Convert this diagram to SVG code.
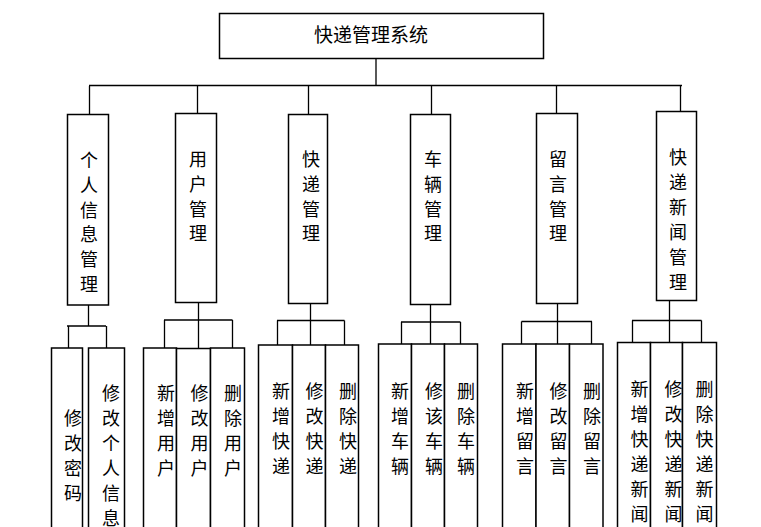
<svg xmlns="http://www.w3.org/2000/svg" width="761" height="527" viewBox="0 0 761 527">
<style>
.box{fill:#fff;stroke:#000;stroke-width:1.5}
.ln{stroke:#000;stroke-width:1.3;fill:none}
.t{font-family:"Noto Sans CJK SC","Noto Sans CJK TC",sans-serif;font-size:18px;text-anchor:middle;dominant-baseline:central;fill:#000}
.r{font-size:19px}
</style>
<rect width="761" height="527" fill="#fff"/>
<g id="connectors">
<path class="ln" d="M376,58V86M89,85.5H682M89.5,86V114M197.5,86V113M308.5,86V114M431.5,86V114M556.5,86V113M680.5,86V111"/>
<path class="ln" d="M88.5,305V326M67,326H106M68.5,326V348M106.5,326V348"/>
<path class="ln" d="M198.5,302V348M164,320H232.5M164.5,320V348M232.5,320V348"/>
<path class="ln" d="M310.5,303V345M277,320.5H344.5M277.5,320.5V345M344.5,320.5V345"/>
<path class="ln" d="M430.5,304V344M401,322H460.5M401.5,322V344M460.5,322V344"/>
<path class="ln" d="M557.5,303V344M521.5,321.5H592M521.5,321.5V344M591.5,321.5V344"/>
<path class="ln" d="M669.5,300V342.5M632,320.5H701.5M632.5,320.5V342.5M701.5,320.5V342.5"/>
</g>
<g id="root"><rect class="box" x="219.5" y="13.5" width="324" height="45"/><text class="t r" x="371" y="33">快递管理系统</text></g>
<g id="n1"><rect class="box" x="67.5" y="114.5" width="41" height="190.5"/><text class="t" x="89"><tspan x="89" y="159">个</tspan><tspan x="89" dy="24.8">人</tspan><tspan x="89" dy="24.8">信</tspan><tspan x="89" dy="24.8">息</tspan><tspan x="89" dy="24.8">管</tspan><tspan x="89" dy="24.8">理</tspan></text></g>
<g id="n2"><rect class="box" x="175.5" y="113.5" width="41" height="189"/><text class="t"><tspan x="198" y="158">用</tspan><tspan x="198" dy="24.8">户</tspan><tspan x="198" dy="24.8">管</tspan><tspan x="198" dy="24.8">理</tspan></text></g>
<g id="n3"><rect class="box" x="288.5" y="114.5" width="39" height="189"/><text class="t"><tspan x="311" y="158">快</tspan><tspan x="311" dy="24.8">递</tspan><tspan x="311" dy="24.8">管</tspan><tspan x="311" dy="24.8">理</tspan></text></g>
<g id="n4"><rect class="box" x="410.5" y="114.5" width="40" height="190"/><text class="t"><tspan x="433" y="158">车</tspan><tspan x="433" dy="24.8">辆</tspan><tspan x="433" dy="24.8">管</tspan><tspan x="433" dy="24.8">理</tspan></text></g>
<g id="n5"><rect class="box" x="536.5" y="113.5" width="41" height="190"/><text class="t"><tspan x="558" y="158">留</tspan><tspan x="558" dy="24.8">言</tspan><tspan x="558" dy="24.8">管</tspan><tspan x="558" dy="24.8">理</tspan></text></g>
<g id="n6"><rect class="box" x="656.5" y="111.5" width="40" height="189"/><text class="t"><tspan x="678" y="156">快</tspan><tspan x="678" dy="25">递</tspan><tspan x="678" dy="25">新</tspan><tspan x="678" dy="25">闻</tspan><tspan x="678" dy="25">管</tspan><tspan x="678" dy="25">理</tspan></text></g>
<g id="n1a"><rect class="box" x="51.5" y="348" width="31" height="200"/><text class="t"><tspan x="73" y="416.5">修</tspan><tspan x="73" dy="25">改</tspan><tspan x="73" dy="25">密</tspan><tspan x="73" dy="25">码</tspan></text></g>
<g id="n1b"><rect class="box" x="88.5" y="348" width="36" height="200"/><text class="t"><tspan x="111" y="391.5">修</tspan><tspan x="111" dy="25">改</tspan><tspan x="111" dy="25">个</tspan><tspan x="111" dy="25">人</tspan><tspan x="111" dy="25">信</tspan><tspan x="111" dy="25">息</tspan></text></g>
<g id="n2a"><rect class="box" x="143.5" y="348" width="33" height="200"/><text class="t"><tspan x="166" y="391.5">新</tspan><tspan x="166" dy="25">增</tspan><tspan x="166" dy="25">用</tspan><tspan x="166" dy="25">户</tspan></text></g>
<g id="n2b"><rect class="box" x="176.5" y="348.5" width="34" height="200"/><text class="t"><tspan x="199.5" y="391.5">修</tspan><tspan x="199.5" dy="25">改</tspan><tspan x="199.5" dy="25">用</tspan><tspan x="199.5" dy="25">户</tspan></text></g>
<g id="n2c"><rect class="box" x="210.5" y="348" width="34" height="200"/><text class="t"><tspan x="233" y="391.5">删</tspan><tspan x="233" dy="25">除</tspan><tspan x="233" dy="25">用</tspan><tspan x="233" dy="25">户</tspan></text></g>
<g id="n3a"><rect class="box" x="258.5" y="345" width="34" height="200"/><text class="t"><tspan x="281" y="389.5">新</tspan><tspan x="281" dy="25">增</tspan><tspan x="281" dy="25">快</tspan><tspan x="281" dy="25">递</tspan></text></g>
<g id="n3b"><rect class="box" x="292.5" y="345" width="33" height="200"/><text class="t"><tspan x="314.5" y="389.5">修</tspan><tspan x="314.5" dy="25">改</tspan><tspan x="314.5" dy="25">快</tspan><tspan x="314.5" dy="25">递</tspan></text></g>
<g id="n3c"><rect class="box" x="325.5" y="345" width="33" height="200"/><text class="t"><tspan x="348" y="389.5">删</tspan><tspan x="348" dy="25">除</tspan><tspan x="348" dy="25">快</tspan><tspan x="348" dy="25">递</tspan></text></g>
<g id="n4a"><rect class="box" x="378.5" y="344" width="33" height="200"/><text class="t"><tspan x="400" y="389.5">新</tspan><tspan x="400" dy="25">增</tspan><tspan x="400" dy="25">车</tspan><tspan x="400" dy="25">辆</tspan></text></g>
<g id="n4b"><rect class="box" x="411.5" y="344" width="33" height="200"/><text class="t"><tspan x="434" y="389.5">修</tspan><tspan x="434" dy="25">该</tspan><tspan x="434" dy="25">车</tspan><tspan x="434" dy="25">辆</tspan></text></g>
<g id="n4c"><rect class="box" x="444.5" y="344" width="33" height="200"/><text class="t"><tspan x="466" y="389.5">删</tspan><tspan x="466" dy="25">除</tspan><tspan x="466" dy="25">车</tspan><tspan x="466" dy="25">辆</tspan></text></g>
<g id="n5a"><rect class="box" x="502.5" y="344" width="33.5" height="200"/><text class="t"><tspan x="525" y="390">新</tspan><tspan x="525" dy="25">增</tspan><tspan x="525" dy="25">留</tspan><tspan x="525" dy="25">言</tspan></text></g>
<g id="n5b"><rect class="box" x="536" y="344" width="33.5" height="200"/><text class="t"><tspan x="558.5" y="390">修</tspan><tspan x="558.5" dy="25">改</tspan><tspan x="558.5" dy="25">留</tspan><tspan x="558.5" dy="25">言</tspan></text></g>
<g id="n5c"><rect class="box" x="569.5" y="344" width="33.5" height="200"/><text class="t"><tspan x="592" y="390">删</tspan><tspan x="592" dy="25">除</tspan><tspan x="592" dy="25">留</tspan><tspan x="592" dy="25">言</tspan></text></g>
<g id="n6a"><rect class="box" x="617.5" y="342.5" width="33" height="200"/><text class="t"><tspan x="639.5" y="387.5">新</tspan><tspan x="639.5" dy="25">增</tspan><tspan x="639.5" dy="25">快</tspan><tspan x="639.5" dy="25">递</tspan><tspan x="639.5" dy="25">新</tspan><tspan x="639.5" dy="25">闻</tspan></text></g>
<g id="n6b"><rect class="box" x="650.5" y="342.5" width="32" height="200"/><text class="t"><tspan x="673.5" y="387.5">修</tspan><tspan x="673.5" dy="25">改</tspan><tspan x="673.5" dy="25">快</tspan><tspan x="673.5" dy="25">递</tspan><tspan x="673.5" dy="25">新</tspan><tspan x="673.5" dy="25">闻</tspan></text></g>
<g id="n6c"><rect class="box" x="682.5" y="342.5" width="34" height="200"/><text class="t"><tspan x="704.5" y="387.5">删</tspan><tspan x="704.5" dy="25">除</tspan><tspan x="704.5" dy="25">快</tspan><tspan x="704.5" dy="25">递</tspan><tspan x="704.5" dy="25">新</tspan><tspan x="704.5" dy="25">闻</tspan></text></g>
</svg>
